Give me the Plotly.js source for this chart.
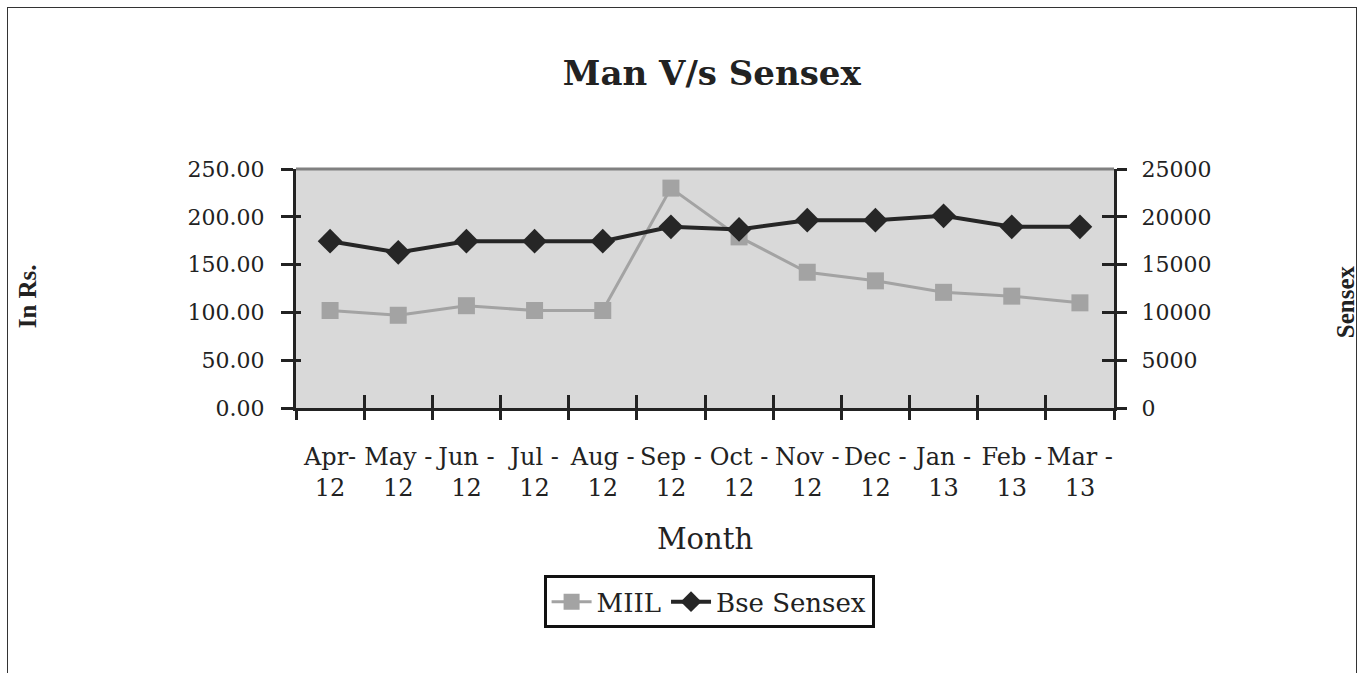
<!DOCTYPE html>
<html>
<head>
<meta charset="utf-8">
<script src="https://cdn.plot.ly/plotly-3.0.1.min.js"></script>
<style>
  html, body { margin: 0; padding: 0; background: #fff; }
  #wrap { position: relative; width: 1361px; height: 673px; }
  #chart { width: 1361px; height: 673px; }
  #frame { position: absolute; left: 7px; top: 7px; width: 1348px; height: 700px;
           border: 1px solid #333; pointer-events: none; }
</style>
</head>
<body>
<div id="wrap"><div id="chart"></div><div id="frame"></div></div>
<script>
const months = ["Apr-<br>12", "May -<br>12", "Jun -<br>12", "Jul -<br>12", "Aug -<br>12", "Sep -<br>12",
                "Oct -<br>12", "Nov -<br>12", "Dec -<br>12", "Jan -<br>13", "Feb -<br>13", "Mar -<br>13"];
const miil = [102, 97, 107, 102, 102, 230, 179, 142, 133, 121, 117, 110];
const sensex = [17450, 16280, 17450, 17450, 17450, 18950, 18680, 19650, 19650, 20100, 18950, 18950];
const leftTicks = [0, 50, 100, 150, 200, 250];
const rightTicks = [0, 5000, 10000, 15000, 20000, 25000];

const FONT = "DejaVu Serif, Liberation Serif, serif";
const boundaries = months.map((m, i) => i - 0.5).concat([months.length - 0.5]);

const traces = [
  {
    x: months, y: miil, name: "MIIL", type: "scatter", mode: "lines+markers",
    line: { color: "#a3a3a3", width: 3 },
    marker: { symbol: "square", size: 17, color: "#a3a3a3" },
    xaxis: "x", yaxis: "y"
  },
  {
    x: months, y: sensex, name: "Bse Sensex", type: "scatter", mode: "lines+markers",
    line: { color: "#262626", width: 4 },
    marker: { symbol: "diamond", size: 19, color: "#262626" },
    xaxis: "x", yaxis: "y2"
  },
  { x: [], y: [], xaxis: "x3", yaxis: "y3", showlegend: false, hoverinfo: "skip", type: "scatter", mode: "markers" },
  { x: [], y: [], xaxis: "x3", yaxis: "y4", showlegend: false, hoverinfo: "skip", type: "scatter", mode: "markers" }
];

const layout = {
  width: 1361, height: 673,
  margin: { l: 296, r: 247, t: 169, b: 265 },
  paper_bgcolor: "#ffffff",
  plot_bgcolor: "#d9d9d9",
  font: { family: FONT, color: "#222" },
  title: { text: "<b>Man V/s Sensex</b>", font: { family: FONT, size: 34, color: "#222" },
           x: 0.523, xanchor: "center", y: 0.892, yanchor: "middle" },
  showlegend: true,
  legend: {
    orientation: "h", x: 0.505, xanchor: "center", y: -0.70, yanchor: "top",
    bordercolor: "#111", borderwidth: 3, bgcolor: "#fff",
    font: { family: FONT, size: 26, color: "#222" },
    itemwidth: 40, tracegroupgap: 0
  },
  xaxis: {
    type: "category", range: [-0.5, 11.5], tickson: "boundaries", tickangle: 0,
    showgrid: false, zeroline: false,
    showline: true, linecolor: "#222", linewidth: 3,
    ticks: "outside", ticklen: 9, tickwidth: 3, tickcolor: "#222",
    tickfont: { family: FONT, size: 24, color: "#222" },
    ticklabelstandoff: 25,
    title: { text: "Month", font: { family: FONT, size: 29, color: "#222" }, standoff: 28 },
    fixedrange: true
  },
  yaxis: {
    range: [0, 250], tickvals: leftTicks, tickformat: ".2f",
    showgrid: false, zeroline: false,
    showline: true, linecolor: "#222", linewidth: 3,
    ticks: "outside", ticklen: 12, tickwidth: 3, tickcolor: "#222",
    tickfont: { family: FONT, size: 22, color: "#222" },
    ticklabelstandoff: 12,
    fixedrange: true
  },
  yaxis2: {
    range: [0, 25000], tickvals: rightTicks, tickformat: "d",
    overlaying: "y", side: "right", anchor: "x",
    showgrid: false, zeroline: false,
    showline: true, linecolor: "#222", linewidth: 3,
    ticks: "outside", ticklen: 10, tickwidth: 3, tickcolor: "#222",
    tickfont: { family: FONT, size: 22, color: "#222" },
    ticklabelstandoff: 10,
    fixedrange: true
  },
  xaxis3: {
    overlaying: "x", range: [-0.5, 11.5], tickvals: boundaries, showticklabels: false,
    ticks: "inside", ticklen: 13, tickwidth: 3, tickcolor: "#222",
    showgrid: false, zeroline: false, showline: false, anchor: "y3", fixedrange: true
  },
  yaxis3: {
    overlaying: "y", range: [0, 250], tickvals: leftTicks, showticklabels: false,
    ticks: "inside", ticklen: 5, tickwidth: 3, tickcolor: "#222",
    showgrid: false, zeroline: false, showline: false, anchor: "x3", side: "left", fixedrange: true
  },
  yaxis4: {
    overlaying: "y", range: [0, 25000], tickvals: rightTicks, showticklabels: false,
    ticks: "inside", ticklen: 12, tickwidth: 3, tickcolor: "#222",
    showgrid: false, zeroline: false, showline: false, anchor: "x3", side: "right", fixedrange: true
  },
  shapes: [
    { type: "line", xref: "paper", yref: "paper", x0: 0, x1: 1, y0: 1, y1: 1,
      line: { color: "#808080", width: 3 } }
  ],
  annotations: [
    { text: "<b>In Rs.</b>", xref: "paper", yref: "paper", x: -0.328, y: 0.466,
      xanchor: "center", yanchor: "middle", textangle: -90, showarrow: false,
      font: { family: "Liberation Serif, serif", size: 25, color: "#222" } },
    { text: "<b>Sensex</b>", xref: "paper", yref: "paper", x: 1.283, y: 0.445,
      xanchor: "center", yanchor: "middle", textangle: -90, showarrow: false,
      font: { family: "Liberation Serif, serif", size: 25, color: "#222" } }
  ]
};

Plotly.newPlot("chart", traces, layout, { displayModeBar: false, staticPlot: true });
</script>
</body>
</html>
